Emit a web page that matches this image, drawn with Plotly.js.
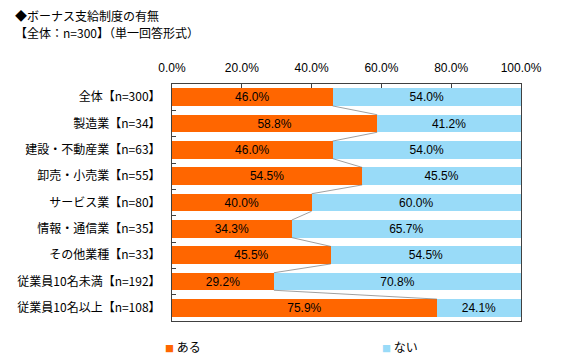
<!DOCTYPE html>
<html>
<head>
<meta charset="utf-8">
<script src="https://cdn.plot.ly/plotly-3.0.1.min.js"></script>
<style>html,body{margin:0;padding:0;background:#fff;}#chart{width:564px;height:364px;}</style>
</head>
<body>
<div id="chart"></div>
<script>
const categories = ["全体【n=300】","製造業【n=34】","建設・不動産業【n=63】","卸売・小売業【n=55】","サービス業【n=80】","情報・通信業【n=35】","その他業種【n=33】","従業員10名未満【n=192】","従業員10名以上【n=108】"];
const aru = [46.0, 58.8, 46.0, 54.5, 40.0, 34.3, 45.5, 29.2, 75.9];
const nai = [54.0, 41.2, 54.0, 45.5, 60.0, 65.7, 54.5, 70.8, 24.1];
const seriesNames = ["ある", "ない"];
const seriesColors = ["#FF6600", "#99DBF8"];
const xTicks = [0, 20, 40, 60, 80, 100];
const xTickText = xTicks.map(v => v.toFixed(1) + '%');
const titleLines = ["◆ボーナス支給制度の有無", "【全体：n=300】（単一回答形式）"];

const cjk = "'Noto Sans CJK JP', sans-serif";
const num = "'Liberation Sans', Arial, sans-serif";
const bargap = 0.335;
const w = 1 - bargap;

function barTrace(vals, i) {
  return {
    type: 'bar', orientation: 'h', name: seriesNames[i],
    y: categories, x: vals,
    marker: {color: seriesColors[i], line: {width: 0}},
    text: vals.map(v => v.toFixed(1) + '%'),
    textposition: 'inside', insidetextanchor: 'middle', constraintext: 'none',
    textfont: {family: num, size: 12, color: '#000'},
    hoverinfo: 'skip', showlegend: false
  };
}

const shapes = [];
for (let i = 0; i < aru.length - 1; i++) {
  shapes.push({type: 'line', xref: 'x', yref: 'y',
    x0: aru[i], y0: i + w / 2, x1: aru[i + 1], y1: i + 1 - w / 2,
    line: {color: '#808080', width: 0.75}, layer: 'above'});
}

// paper coordinates from pixel positions (plot area: x 172..521, y 84..321)
const px2x = p => (p - 172) / 349;
const py2y = p => (321 - p) / 237;

const annotations = [
  {xref: 'paper', yref: 'paper', x: px2x(13), y: py2y(15), xanchor: 'left', yanchor: 'middle', showarrow: false,
   text: titleLines[0], font: {family: cjk, size: 12, color: '#000'}},
  {xref: 'paper', yref: 'paper', x: px2x(13), y: py2y(33), xanchor: 'left', yanchor: 'middle', showarrow: false,
   text: titleLines[1], font: {family: cjk, size: 12, color: '#000'}},
  {xref: 'paper', yref: 'paper', x: px2x(163), y: py2y(346), xanchor: 'left', yanchor: 'middle', showarrow: false,
   text: '<span style="color:' + seriesColors[0] + ';font-size:9px">■</span> ' + seriesNames[0],
   font: {family: cjk, size: 12, color: '#000'}},
  {xref: 'paper', yref: 'paper', x: px2x(380), y: py2y(346), xanchor: 'left', yanchor: 'middle', showarrow: false,
   text: '<span style="color:' + seriesColors[1] + ';font-size:9px">■</span> ' + seriesNames[1],
   font: {family: cjk, size: 12, color: '#000'}}
];

const layout = {
  width: 564, height: 364,
  margin: {l: 172, r: 43, t: 84, b: 43},
  paper_bgcolor: '#fff', plot_bgcolor: '#fff',
  barmode: 'stack', bargap: bargap,
  showlegend: false,
  xaxis: {side: 'top', range: [0, 100], tickmode: 'array', tickvals: xTicks, ticktext: xTickText,
    ticks: 'inside', ticklen: 4, tickcolor: '#404040', showgrid: false, zeroline: false,
    showline: true, mirror: true, linecolor: '#404040', linewidth: 1, ticklabelstandoff: 6,
    tickfont: {family: num, size: 12, color: '#000'}},
  yaxis: {type: 'category', autorange: 'reversed', ticks: 'inside', tickson: 'boundaries', ticklen: 4,
    tickcolor: '#404040', showgrid: false, zeroline: false,
    showline: true, mirror: true, linecolor: '#404040', linewidth: 1, ticklabelstandoff: 8,
    tickfont: {family: cjk, size: 12, color: '#000'}},
  shapes: shapes,
  annotations: annotations,
  font: {family: cjk}
};

Plotly.newPlot('chart', [barTrace(aru, 0), barTrace(nai, 1)], layout, {displayModeBar: false, staticPlot: true});
</script>
</body>
</html>
